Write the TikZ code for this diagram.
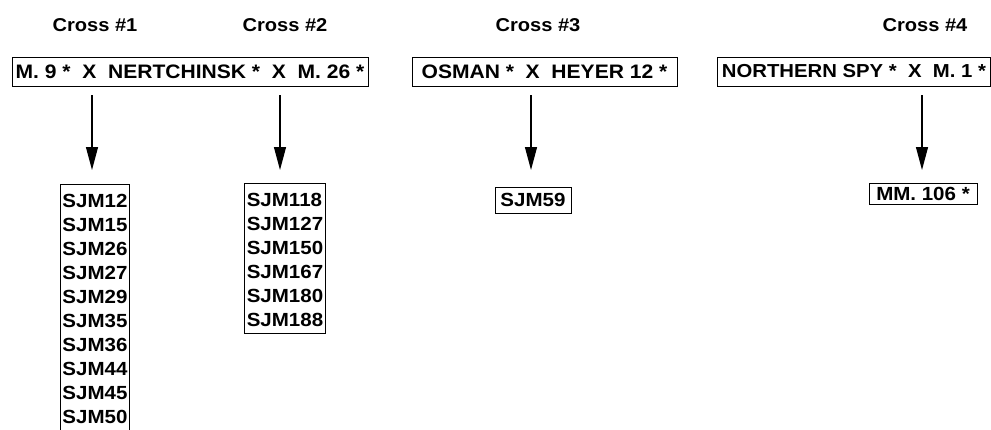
\documentclass[tikz,border=0pt]{standalone}
\usepackage{fontspec}
\setmainfont[FakeStretch=1.08]{Liberation Sans}
\usetikzlibrary{arrows.meta}
\newcommand\tstrut{\rule{0pt}{20pt}}
\newcommand\bstrut{\rule[-4pt]{0pt}{4pt}}
\begin{document}
\begin{tikzpicture}[x=1pt,y=-1pt,
  hdr/.style={font=\fontsize{18.6}{22}\selectfont\bfseries, inner sep=0pt},
  cbox/.style={draw, line width=0.9pt, font=\fontsize{19.5}{22}\selectfont\bfseries, inner xsep=2pt, inner ysep=0pt, minimum height=29pt},
  lbox/.style={draw, line width=0.9pt, font=\fontsize{19}{24}\selectfont\bfseries, align=left, inner xsep=2pt, inner ysep=3pt},
  sbox/.style={draw, line width=0.9pt, font=\fontsize{19}{22}\selectfont\bfseries, inner xsep=2pt, inner ysep=0pt},
  arr/.style={line width=1.2pt, -{Triangle[length=23pt,width=12pt]}}]
\useasboundingbox (0,0) rectangle (991,429);
\clip (0,0) rectangle (991,429);
\node[hdr] (h1) at (95,25) {Cross \#1};
\node[hdr] (h2) at (285,25) {Cross \#2};
\node[hdr] (h3) at (538,25) {Cross \#3};
\node[hdr] (h4) at (925,25) {Cross \#4};
\node[cbox, minimum width=356pt] (c1) at (190,71.5) {M. 9 *\ \ X\ \ NERTCHINSK *\ \ X\ \ M. 26 *};
\node[cbox, minimum width=265pt] (c3) at (544.5,71.5) {OSMAN *\ \ X\ \ HEYER 12 *};
\node[cbox, anchor=west, minimum width=273pt, font=\fontsize{18.8}{22}\selectfont\bfseries] (c4) at (717,71.5) {NORTHERN SPY *\ \ X\ \ M. 1 *};
\node[lbox, anchor=north] (l1) at (95,184) {\tstrut SJM12\\SJM15\\SJM26\\SJM27\\SJM29\\SJM35\\SJM36\\SJM44\\SJM45\\SJM50\bstrut};
\node[lbox, anchor=north] (l2) at (285,183) {\tstrut SJM118\\SJM127\\SJM150\\SJM167\\SJM180\\SJM188\bstrut};
\node[sbox, minimum width=76pt, minimum height=26pt] (l3) at (533,200) {SJM59};
\node[sbox, minimum width=108pt, minimum height=21pt] (l4) at (923,193.5) {MM. 106 *};
\coordinate (a1s) at (92,95);  \coordinate (a1e) at (92,170);
\coordinate (a2s) at (280,95); \coordinate (a2e) at (280,170);
\coordinate (a3s) at (531,95); \coordinate (a3e) at (531,170);
\coordinate (a4s) at (922,95); \coordinate (a4e) at (922,170);
\draw[arr] (a1s) -- (a1e);
\draw[arr] (a2s) -- (a2e);
\draw[arr] (a3s) -- (a3e);
\draw[arr] (a4s) -- (a4e);
\end{tikzpicture}
\end{document}
